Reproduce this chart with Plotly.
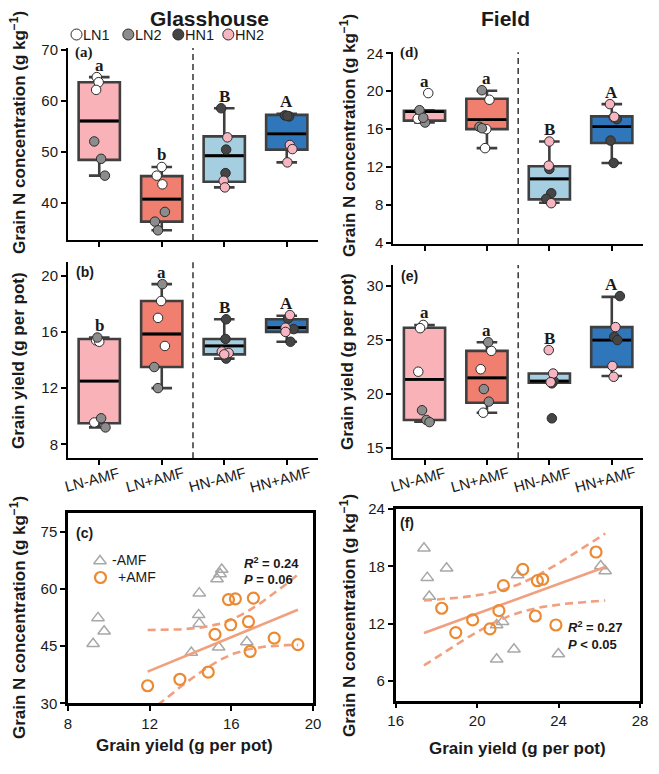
import numpy as np
import plotly.graph_objects as go

# the page body adds an 8 px margin, so the figure is drawn 8 px smaller
# and every position below is given in the reference's pixel frame
OFF = 8
W, H = 659 - 2 * OFF, 774 - 2 * OFF

groups = ["LN-AMF", "LN+AMF", "HN-AMF", "HN+AMF"]
box_fill = ["#F9B3B8", "#F07F70", "#A5CEE1", "#2F76BA"]
geno_names = [["LN1", "LN2"], ["LN1", "LN2"], ["HN1", "HN2"], ["HN1", "HN2"]]
geno_color = {"LN1": "#FFFFFF", "LN2": "#8C8C8C", "HN1": "#454545", "HN2": "#F6B5C0"}

# ---- glasshouse, grain N (a): per group, first 3 = genotype 1, last 3 = genotype 2
a_y = [[64.6, 63.6, 62.1, 52.0, 48.6, 45.3],
       [47.0, 45.3, 43.6, 38.2, 36.3, 34.6],
       [58.5, 50.4, 45.8, 52.8, 44.3, 43.0],
       [57.1, 56.9, 57.0, 51.3, 50.5, 47.9]]
a_jit = [[-0.04, -0.01, -0.05, -0.08, 0.03, 0.09],
         [0.0, -0.08, 0.01, 0.05, -0.11, -0.06],
         [-0.05, 0.03, 0.02, 0.05, -0.01, 0.01],
         [-0.03, 0.04, 0.01, 0.05, 0.09, 0.01]]
a_q1 = [48.4, 36.3, 44.1, 50.4]
a_med = [56.0, 40.7, 49.2, 53.5]
a_q3 = [63.6, 45.2, 53.0, 57.2]
a_lo = [45.3, 34.6, 43.0, 47.9]
a_hi = [64.6, 47.0, 58.5, 57.4]
a_letters = ["a", "b", "B", "A"]

# ---- glasshouse, grain yield (b)
b_y = [[15.4, 15.3, 9.55, 15.6, 9.85, 9.2],
       [18.2, 17.0, 15.0, 19.4, 13.5, 12.0],
       [16.9, 15.5, 14.1, 14.6, 14.5, 14.4],
       [16.95, 16.2, 15.3, 17.2, 16.3, 16.0]]
b_jit = [[-0.05, 0.0, -0.08, -0.03, 0.03, 0.1],
         [-0.01, -0.06, 0.05, 0.01, -0.12, -0.06],
         [0.03, 0.02, 0.03, -0.04, 0.07, 0.0],
         [0.02, 0.11, 0.06, 0.05, -0.02, -0.02]]
b_q1 = [9.5, 13.5, 14.4, 16.0]
b_med = [12.5, 15.85, 15.0, 16.3]
b_q3 = [15.5, 18.2, 15.5, 16.9]
b_lo = [9.2, 12.0, 14.1, 15.3]
b_hi = [15.6, 19.4, 16.9, 17.15]
b_letters = ["b", "a", "B", "A"]

# ---- field, grain N (d)
d_y = [[19.8, 17.6, 17.1, 18.0, 16.7, 17.2],
       [19.1, 16.0, 14.0, 20.1, 16.25, 16.1],
       [11.8, 9.25, 8.66, 14.7, 12.16, 8.2],
       [17.06, 14.8, 12.44, 18.64, 17.24, 17.3]]
d_jit = [[0.06, -0.07, -0.11, -0.08, 0.01, -0.02],
         [0.04, -0.01, -0.03, -0.08, -0.12, -0.08],
         [0.0, 0.03, -0.05, 0.0, -0.01, 0.03],
         [0.08, -0.02, 0.03, -0.03, 0.03, 0.04]]
d_q1 = [16.9, 16.0, 8.6, 14.54]
d_med = [17.84, 17.0, 10.76, 16.26]
d_q3 = [17.94, 19.2, 12.1, 17.35]
d_lo = [16.7, 14.0, 8.24, 12.44]
d_hi = [18.0, 20.05, 14.7, 18.64]
d_letters = ["a", "a", "B", "A"]

# ---- field, grain yield (e)
e_y = [[26.4, 26.1, 22.07, 18.5, 17.6, 17.4],
       [24.0, 22.3, 18.27, 24.8, 20.46, 19.3],
       [21.2, 20.99, 17.75, 24.07, 21.9, 21.1],
       [29.07, 25.3, 25.0, 26.2, 22.6, 21.6]]
e_jit = [[-0.02, -0.07, -0.1, -0.04, 0.03, 0.08],
         [0.07, -0.1, -0.06, 0.02, -0.05, 0.03],
         [0.07, 0.04, 0.04, -0.01, 0.06, 0.02],
         [0.13, 0.04, 0.09, 0.06, 0.01, 0.03]]
e_q1 = [17.6, 19.2, 21.05, 22.5]
e_med = [21.36, 21.5, 21.2, 25.0]
e_q3 = [26.14, 24.0, 21.9, 26.2]
e_lo = [17.44, 18.27, 21.05, 21.67]
e_hi = [26.4, 24.8, 21.9, 29.0]
e_letters = ["a", "a", "B", "A"]

# ---- scatter (c): glasshouse yield vs N
c_minus_x = [9.23, 9.47, 9.77, 14.43, 14.4, 14.43, 14.04, 15.53, 15.45, 15.3, 15.38, 16.76]
c_minus_y = [45.6, 52.4, 48.9, 58.9, 53.2, 50.9, 43.3, 65.1, 63.9, 62.6, 44.7, 46.1]
c_plus_x = [11.9, 13.48, 14.87, 15.2, 15.86, 16.2, 15.97, 17.08, 16.84, 16.92, 18.1, 19.26]
c_plus_y = [34.6, 36.3, 38.2, 48.1, 57.2, 57.4, 50.6, 57.6, 51.4, 43.6, 47.1, 45.4]

# ---- scatter (f): field yield vs N
f_minus_x = [17.39, 17.55, 17.65, 18.5, 20.96, 21.25, 20.96, 21.81, 21.99, 23.99, 26.07, 26.29]
f_minus_y = [19.89, 16.82, 14.84, 17.8, 11.87, 12.22, 8.29, 9.33, 17.1, 8.84, 18.04, 17.52]
f_plus_x = [18.26, 18.95, 19.78, 20.63, 21.07, 21.29, 22.24, 22.86, 22.96, 23.22, 23.87, 25.84]
f_plus_y = [13.62, 11.07, 12.4, 11.46, 13.37, 15.99, 17.69, 12.81, 16.5, 16.65, 11.87, 19.5]

T95_DF10 = 2.228  # two-sided 95% t quantile, n = 12

SANS = "Liberation Sans, Arial, sans-serif"
SERIF = "Liberation Serif, Times New Roman, serif"
BOX_LINE = "#3F3F3F"
ORANGE = "#EC8A33"
SALMON = "#F0A07F"
TRI = "#A8A8A8"
INK = "#1A1A1A"


def px(x, y):
    return (x - OFF) / W, 1 - (y - OFF) / H


def dom_x(left, right):
    return [(left - OFF) / W, (right - OFF) / W]


def dom_y(top, bottom):
    return [1 - (bottom - OFF) / H, 1 - (top - OFF) / H]


fig = go.Figure()


def box_panel(n, ys, jit, q1, med, q3, lo, hi, letters):
    xa, ya = ("x%d" % n, "y%d" % n) if n > 1 else ("x", "y")
    for i in range(4):
        fig.add_trace(go.Box(
            x=[i], q1=[q1[i]], median=[med[i]], q3=[q3[i]],
            lowerfence=[lo[i]], upperfence=[hi[i]], width=0.66,
            fillcolor=box_fill[i], line=dict(color=BOX_LINE, width=2.6),
            whiskerwidth=0.5, boxpoints=False, showlegend=False,
            xaxis=xa, yaxis=ya, hoverinfo="skip"))
        fig.add_trace(go.Scatter(
            x=[i - 0.31, i + 0.31], y=[med[i], med[i]], mode="lines",
            line=dict(color="black", width=2.8), showlegend=False,
            xaxis=xa, yaxis=ya, hoverinfo="skip"))
        for k in range(6):
            g = geno_names[i][0 if k < 3 else 1]
            fig.add_trace(go.Scatter(
                x=[i + jit[i][k]], y=[ys[i][k]], mode="markers",
                marker=dict(size=9.5, color=geno_color[g],
                            line=dict(color="#2B2B2B", width=1)),
                showlegend=False, xaxis=xa, yaxis=ya, cliponaxis=False))
        top = max(hi[i], max(ys[i]))
        fig.add_annotation(x=i, y=top, xref=xa, yref=ya, text="<b>%s</b>" % letters[i],
                           showarrow=False, yshift=12,
                           font=dict(family=SERIF, size=17, color=INK))
    fig.add_shape(type="line", x0=1.5, x1=1.5, y0=0, y1=1, xref=xa,
                  yref="%s domain" % ya, line=dict(color="black", width=1.2, dash="6px,4px"))


def cat_labels(xa, y_ref):
    _, yp = px(0, y_ref)
    for i, g in enumerate(groups):
        fig.add_annotation(x=i, y=yp, xref=xa, yref="paper", text=g, showarrow=False,
                           xshift=-7, textangle=-15, borderpad=0,
                           font=dict(family=SANS, size=15, color=INK))


def fit_band(x, y, x_lo, x_hi):
    x = np.asarray(x)
    y = np.asarray(y)
    b1, b0 = np.polyfit(x, y, 1)
    n = len(x)
    s = np.sqrt(np.sum((y - (b0 + b1 * x)) ** 2) / (n - 2))
    sxx = np.sum((x - x.mean()) ** 2)
    xs = np.linspace(x_lo, x_hi, 120)
    fit = b0 + b1 * xs
    half = T95_DF10 * s * np.sqrt(1 / n + (xs - x.mean()) ** 2 / sxx)
    return xs, fit, fit - half, fit + half


def scatter_panel(n, mx, my, plx, ply, x_lo, x_hi):
    xa, ya = "x%d" % n, "y%d" % n
    fig.add_trace(go.Scatter(
        x=mx, y=my, mode="markers",
        marker=dict(symbol="triangle-up-open", size=11, color=TRI, line=dict(width=1.5)),
        showlegend=False, xaxis=xa, yaxis=ya))
    xs, fit, lo, up = fit_band(plx, ply, x_lo, x_hi)
    for yy, dash in [(lo, "8px,5px"), (up, "8px,5px"), (fit, "solid")]:
        fig.add_trace(go.Scatter(
            x=xs, y=yy, mode="lines", line=dict(color=SALMON, width=2.6, dash=dash),
            showlegend=False, xaxis=xa, yaxis=ya, hoverinfo="skip"))
    fig.add_trace(go.Scatter(
        x=plx, y=ply, mode="markers",
        marker=dict(symbol="circle-open", size=11, color=ORANGE, line=dict(width=2.2)),
        showlegend=False, xaxis=xa, yaxis=ya))


box_panel(1, a_y, a_jit, a_q1, a_med, a_q3, a_lo, a_hi, a_letters)
box_panel(2, b_y, b_jit, b_q1, b_med, b_q3, b_lo, b_hi, b_letters)
box_panel(4, d_y, d_jit, d_q1, d_med, d_q3, d_lo, d_hi, d_letters)
box_panel(5, e_y, e_jit, e_q1, e_med, e_q3, e_lo, e_hi, e_letters)
scatter_panel(3, c_minus_x, c_minus_y, c_plus_x, c_plus_y, min(c_plus_x), max(c_plus_x))
scatter_panel(6, f_minus_x, f_minus_y, f_plus_x, f_plus_y,
              min(f_minus_x + f_plus_x), max(f_minus_x + f_plus_x))
cat_labels("x2", 479)
cat_labels("x5", 479)

# legend glyphs on a pixel-space overlay axis
leg_x = [76.5, 128.3, 178.3, 228.3]
leg_names = ["LN1", "LN2", "HN1", "HN2"]
fig.add_trace(go.Scatter(
    x=leg_x, y=[34.5] * 4, mode="markers",
    marker=dict(size=11, color=[geno_color[g] for g in leg_names],
                line=dict(color="#2B2B2B", width=1)),
    showlegend=False, xaxis="x7", yaxis="y7"))
fig.add_trace(go.Scatter(
    x=[100], y=[561], mode="markers",
    marker=dict(symbol="triangle-up-open", size=11, color=TRI, line=dict(width=1.5)),
    showlegend=False, xaxis="x7", yaxis="y7"))
fig.add_trace(go.Scatter(
    x=[100.5], y=[577.5], mode="markers",
    marker=dict(symbol="circle-open", size=11, color=ORANGE, line=dict(width=2.2)),
    showlegend=False, xaxis="x7", yaxis="y7"))

tick_font = dict(family=SANS, size=15, color=INK)
title_font = dict(family=SANS, size=17, color=INK)


def ax(domain, rng, tickvals=None, ticktext=None, frame=False):
    d = dict(domain=domain, range=rng, showline=True, linecolor="black",
             linewidth=2.5 if frame else 2, mirror=frame, ticks="outside",
             ticklen=5, tickwidth=1.8, tickcolor="black", showgrid=False,
             zeroline=False, tickfont=tick_font, fixedrange=True, automargin=False)
    if tickvals is not None:
        d["tickvals"] = tickvals
        d["ticktext"] = ticktext if ticktext is not None else [str(v) for v in tickvals]
    return d


blank = ["", "", "", ""]
layout = dict(
    width=W, height=H, margin=dict(l=0, r=0, t=0, b=0, pad=0, autoexpand=False),
    paper_bgcolor="white", plot_bgcolor="rgba(0,0,0,0)", showlegend=False,
    xaxis=ax(dom_x(68, 318), [-0.5, 3.5], [0, 1, 2, 3], blank),
    yaxis=ax(dom_y(48, 240), [32.7, 70.3], [40, 50, 60, 70]),
    xaxis2=ax(dom_x(68, 318), [-0.5, 3.5], [0, 1, 2, 3], blank),
    yaxis2=ax(dom_y(261.7, 458.3), [7.0, 21.0], [8, 12, 16, 20]),
    xaxis3=ax(dom_x(68, 313), [8, 20], [8, 12, 16, 20], frame=True),
    yaxis3=ax(dom_y(512.7, 703.3), [30, 80], [30, 45, 60, 75], frame=True),
    xaxis4=ax(dom_x(393.3, 643), [-0.5, 3.5], [0, 1, 2, 3], blank),
    yaxis4=ax(dom_y(52.3, 244), [3.9, 24.1], [4, 8, 12, 16, 20, 24]),
    xaxis5=ax(dom_x(393.3, 643), [-0.5, 3.5], [0, 1, 2, 3], blank),
    yaxis5=ax(dom_y(265, 458.3), [14.05, 31.95], [15, 20, 25, 30]),
    xaxis6=ax(dom_x(395.7, 640), [16, 28], [16, 20, 24, 28], frame=True),
    yaxis6=ax(dom_y(509, 700.7), [3.95, 24], [6, 12, 18, 24], frame=True),
    xaxis7=dict(domain=[0, 1], range=[OFF, OFF + W], visible=False,
                fixedrange=True, automargin=False),
    yaxis7=dict(domain=[0, 1], range=[OFF + H, OFF], visible=False,
                fixedrange=True, automargin=False),
)
for k in range(2, 7):
    layout["xaxis%d" % k]["anchor"] = "y%d" % k
    layout["yaxis%d" % k]["anchor"] = "x%d" % k
layout["xaxis7"]["anchor"] = "y7"
layout["yaxis7"]["anchor"] = "x7"
fig.update_layout(**layout)


def note(x, y, text, font, xanchor="center", angle=0, height=None):
    xp, yp = px(x, y)
    fig.add_annotation(x=xp, y=yp, xref="paper", yref="paper", text=text,
                       showarrow=False, xanchor=xanchor, yanchor="middle",
                       textangle=angle, font=font, borderpad=0, height=height)


note(209, 18, "<b>Glasshouse</b>", dict(family=SANS, size=21, color=INK), height=18)
note(505, 18, "<b>Field</b>", dict(family=SANS, size=21, color=INK), height=18)

for gx, name in zip(leg_x, leg_names):
    note(gx + 5.5, 34.5, name, dict(family=SANS, size=14.5, color=INK),
         xanchor="left", height=14)

y_n = "<b>Grain N concentration (g kg<sup>−1</sup>)</b>"
y_gy = "<b>Grain yield (g per pot)</b>"
note(18, 133, y_n, title_font, angle=-90)
note(18, 361, y_gy, title_font, angle=-90)
note(18, 618, y_n, title_font, angle=-90)
note(348, 135, y_n, title_font, angle=-90)
note(347, 362, y_gy, title_font, angle=-90)
note(348, 615, y_n, title_font, angle=-90)
note(184, 745, y_gy, title_font)
note(517, 748, y_gy, title_font)

lab_serif = dict(family=SERIF, size=15, color=INK)
lab_sans = dict(family=SANS, size=14, color=INK)
note(84, 52, "<b>(a)</b>", lab_serif)
note(409, 52, "<b>(d)</b>", lab_serif)
note(85, 272, "<b>(b)</b>", lab_sans)
note(409.5, 276, "<b>(e)</b>", lab_sans)
note(84, 533, "<b>(c)</b>", lab_sans)
note(407.5, 523, "<b>(f)</b>", lab_sans)

leg_font = dict(family=SANS, size=14, color=INK)
note(111, 560, "-AMF", leg_font, xanchor="left")
note(117, 577, "+AMF", leg_font, xanchor="left")

stat_font = dict(family=SANS, size=13, color=INK)
note(243, 563, "<b><i>R</i><sup>2</sup> = 0.24</b>", stat_font, xanchor="left")
note(243, 579, "<b><i>P</i> = 0.06</b>", stat_font, xanchor="left")
note(567, 627, "<b><i>R</i><sup>2</sup> = 0.27</b>", stat_font, xanchor="left")
note(567, 644, "<b><i>P</i> < 0.05</b>", stat_font, xanchor="left")

fig.write_html("out.html")
